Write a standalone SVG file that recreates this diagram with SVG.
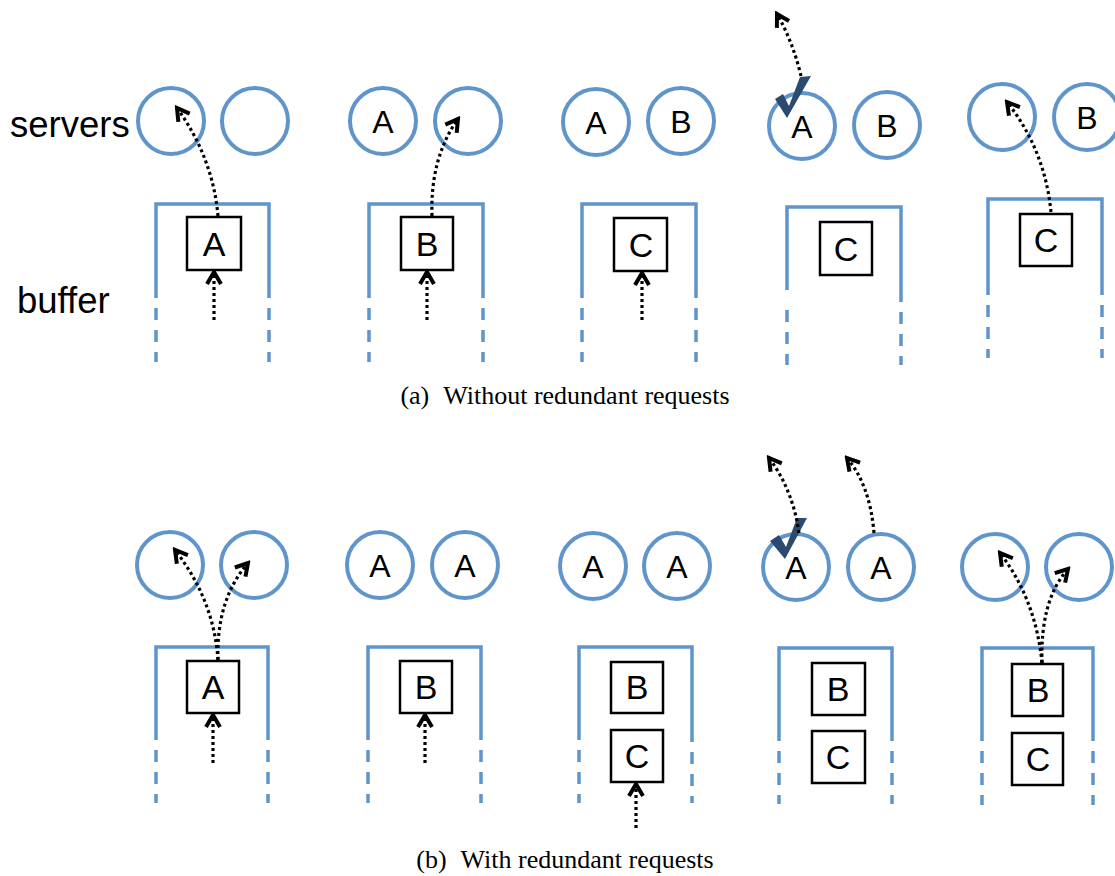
<svg xmlns="http://www.w3.org/2000/svg" width="1115" height="876" viewBox="0 0 1115 876">
  <defs>
    <style>
      .srv { fill: none; stroke: #5f95cb; stroke-width: 4; }
      .wall { fill: none; stroke: #5f95cb; stroke-width: 3.5; }
      .wall-dash { fill: none; stroke: #5f95cb; stroke-width: 3.5; stroke-dasharray: 12 10; }
      .job { fill: #fff; stroke: #000; stroke-width: 2.5; }
      .lbl { font-family: "Liberation Sans", Arial, sans-serif; font-size: 32px; fill: #000; text-anchor: middle; }
      .jlbl { font-family: "Liberation Sans", Arial, sans-serif; font-size: 34px; fill: #000; text-anchor: middle; }
      .side { font-family: "Liberation Sans", Arial, sans-serif; font-size: 36.5px; fill: #000; }
      .cap { font-family: "Liberation Serif", "Times New Roman", serif; font-size: 26px; fill: #000; text-anchor: middle; }
      .flow { fill: none; stroke: #000; stroke-width: 3.2; stroke-dasharray: 3 3; marker-end: url(#head); }
      .tick { fill: #2b4a6f; }
    </style>
    <marker id="head" viewBox="0 0 18 18" refX="15" refY="9" markerWidth="18" markerHeight="18" markerUnits="userSpaceOnUse" orient="auto">
      <polyline points="3,2 15,9 3,16" fill="none" stroke="#000" stroke-width="4" stroke-dasharray="none" stroke-linejoin="miter"/>
    </marker>
  </defs>

  <!-- side labels -->
  <g id="label-servers"><text class="side" x="10" y="137">servers</text></g>
  <g id="label-buffer"><text class="side" x="17" y="313">buffer</text></g>

  <!-- ===== (a) without redundant requests ===== -->
  <g id="a1">
    <circle class="srv" cx="171" cy="121" r="33"/>
    <circle class="srv" cx="255" cy="121" r="33"/>
    <path class="wall" d="M156,298 V204 H269 V298"/>
    <path class="wall-dash" d="M156,308 V362 M269,308 V362"/>
    <rect class="job" x="187" y="217" width="54" height="53"/>
    <text class="jlbl" x="214" y="256">A</text>
  </g>
  <g id="a2">
    <circle class="srv" cx="383" cy="121" r="33"/>
    <text class="lbl" x="383" y="133">A</text>
    <circle class="srv" cx="468" cy="121" r="33"/>
    <path class="wall" d="M369,298 V204 H483 V298"/>
    <path class="wall-dash" d="M369,308 V362 M483,308 V362"/>
    <rect class="job" x="401" y="217" width="52" height="53"/>
    <text class="jlbl" x="427" y="256">B</text>
  </g>
  <g id="a3">
    <circle class="srv" cx="596" cy="122" r="33"/>
    <text class="lbl" x="596" y="134">A</text>
    <circle class="srv" cx="681" cy="121" r="33"/>
    <text class="lbl" x="681" y="133">B</text>
    <path class="wall" d="M582,298 V204 H696 V298"/>
    <path class="wall-dash" d="M582,308 V362 M696,308 V362"/>
    <rect class="job" x="614" y="218" width="53" height="53"/>
    <text class="jlbl" x="641" y="257">C</text>
  </g>
  <g id="a4">
    <circle class="srv" cx="802" cy="126" r="33"/>
    <text class="lbl" x="802" y="138">A</text>
    <circle class="srv" cx="887" cy="125" r="33"/>
    <text class="lbl" x="887" y="137">B</text>
    <path class="wall" d="M787,290 V207 H901 V302"/>
    <path class="wall-dash" d="M787,310 V365 M901,312 V365"/>
    <rect class="job" x="820" y="222" width="52" height="53"/>
    <text class="jlbl" x="846" y="261">C</text>
    <polygon class="tick" points="775,99 783,94 789,106 800,77 811,76 787,118"/>
  </g>
  <g id="a5">
    <circle class="srv" cx="1002" cy="117" r="33"/>
    <circle class="srv" cx="1087" cy="117" r="33"/>
    <text class="lbl" x="1087" y="129">B</text>
    <path class="wall" d="M988,295 V199 H1102 V295"/>
    <path class="wall-dash" d="M988,305 V358 M1102,305 V358"/>
    <rect class="job" x="1020" y="214" width="52" height="52"/>
    <text class="jlbl" x="1046" y="252">C</text>
  </g>

  <!-- ===== (b) with redundant requests ===== -->
  <g id="b1">
    <circle class="srv" cx="170" cy="565" r="33"/>
    <circle class="srv" cx="254" cy="565" r="33"/>
    <path class="wall" d="M156,740 V647 H268 V740"/>
    <path class="wall-dash" d="M156,750 V803 M268,750 V803"/>
    <rect class="job" x="187" y="661" width="52" height="52"/>
    <text class="jlbl" x="213" y="699">A</text>
  </g>
  <g id="b2">
    <circle class="srv" cx="380" cy="565" r="33"/>
    <text class="lbl" x="380" y="577">A</text>
    <circle class="srv" cx="465" cy="565" r="33"/>
    <text class="lbl" x="465" y="577">A</text>
    <path class="wall" d="M368,740 V647 H481 V740"/>
    <path class="wall-dash" d="M368,750 V803 M481,750 V803"/>
    <rect class="job" x="400" y="661" width="52" height="52"/>
    <text class="jlbl" x="426" y="699">B</text>
  </g>
  <g id="b3">
    <circle class="srv" cx="593" cy="566" r="33"/>
    <text class="lbl" x="593" y="578">A</text>
    <circle class="srv" cx="677" cy="566" r="33"/>
    <text class="lbl" x="677" y="578">A</text>
    <path class="wall" d="M579,740 V647 H692 V742"/>
    <path class="wall-dash" d="M579,750 V803 M692,752 V803"/>
    <rect class="job" x="611" y="662" width="52" height="51"/>
    <text class="jlbl" x="637" y="699">B</text>
    <rect class="job" x="611" y="730" width="52" height="52"/>
    <text class="jlbl" x="637" y="768">C</text>
  </g>
  <g id="b4">
    <circle class="srv" cx="796" cy="567" r="33"/>
    <text class="lbl" x="796" y="579">A</text>
    <circle class="srv" cx="881" cy="567" r="33"/>
    <text class="lbl" x="881" y="579">A</text>
    <path class="wall" d="M779,741 V648 H892 V741"/>
    <path class="wall-dash" d="M779,751 V804 M892,751 V804"/>
    <rect class="job" x="812" y="663" width="53" height="52"/>
    <text class="jlbl" x="838" y="701">B</text>
    <rect class="job" x="812" y="731" width="53" height="52"/>
    <text class="jlbl" x="838" y="769">C</text>
    <polygon class="tick" points="770,541 779,535 786,547 797,518 807,518 785,559"/>
  </g>
  <g id="b5">
    <circle class="srv" cx="995" cy="567" r="33"/>
    <circle class="srv" cx="1079" cy="567" r="33"/>
    <path class="wall" d="M982,741 V648 H1093 V741"/>
    <path class="wall-dash" d="M982,751 V805 M1093,751 V805"/>
    <rect class="job" x="1012" y="664" width="51" height="52"/>
    <text class="jlbl" x="1038" y="702">B</text>
    <rect class="job" x="1012" y="733" width="51" height="52"/>
    <text class="jlbl" x="1038" y="771">C</text>
  </g>

  <!-- request flows -->
  <g id="connectors">
    <path class="flow" d="M218,216 Q213,158 177,108"/>
    <path class="flow" d="M214,320 V272"/>
    <path class="flow" d="M432,216 Q430,158 458,119"/>
    <path class="flow" d="M427,320 V272"/>
    <path class="flow" d="M642,320 V273"/>
    <path class="flow" d="M801,76 Q793,42 777,14"/>
    <path class="flow" d="M1051,212 Q1045,150 1007,102"/>

    <path class="flow" d="M218,660 Q214,600 175,550"/>
    <path class="flow" d="M218,660 Q216,600 248,563"/>
    <path class="flow" d="M213,763 V715"/>
    <path class="flow" d="M425,763 V715"/>
    <path class="flow" d="M636,828 V784"/>
    <path class="flow" d="M799,533 Q793,490 769,458"/>
    <path class="flow" d="M874,533 Q870,485 847,458"/>
    <path class="flow" d="M1042,663 Q1036,600 1000,553"/>
    <path class="flow" d="M1042,663 Q1040,600 1068,569"/>
  </g>

  <!-- captions -->
  <g id="caption-a"><text class="cap" x="565" y="404">(a)<tspan dx="14">Without redundant requests</tspan></text></g>
  <g id="caption-b"><text class="cap" x="565" y="868">(b)<tspan dx="14">With redundant requests</tspan></text></g>
</svg>
